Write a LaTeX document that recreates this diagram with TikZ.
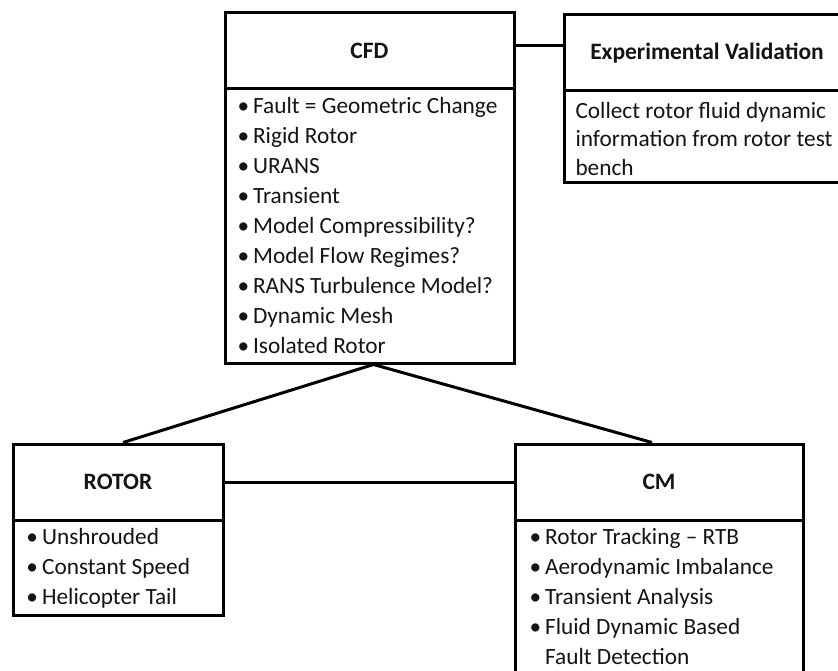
\documentclass[tikz,border=0pt]{standalone}
\usepackage{fontspec}
\setmainfont{Carlito}
\definecolor{txt}{HTML}{141414}
\newcommand{\bul}{\textbullet\kern4pt}
\begin{document}
\begin{tikzpicture}[x=1pt,y=-1pt,
  box/.style={draw=black,line width=3pt,rectangle,inner sep=0pt,text=txt},
  head/.style={box,font=\fontsize{23.5}{28}\selectfont\bfseries},
  body/.style={box,font=\fontsize{23.3}{30}\selectfont,align=left,anchor=north west,inner ysep=0pt},
  conn/.style={line width=3pt,draw=black}]
\useasboundingbox (0,0) rectangle (838,671);
\clip (0,0) rectangle (838,671);
\fill[white] (0,0) rectangle (838,671);
% CFD
\node[head,minimum width=289pt,minimum height=76pt] (cfdh) at (369.5,51) {CFD};
\node[box,minimum width=289pt,minimum height=274pt] (cfdb) at (369.5,226) {};
\node[body,draw=none] (cfdt) at (236,96) {%
\bul Fault = Geometric Change\\
\bul Rigid Rotor\\
\bul URANS\\
\bul Transient\\
\bul Model Compressibility?\\
\bul Model Flow Regimes?\\
\bul RANS Turbulence Model?\\
\bul Dynamic Mesh\\
\bul Isolated Rotor};
% Experimental validation
\node[head,minimum width=286pt,minimum height=76pt] (exph) at (707,53) {Experimental Validation};
\node[box,minimum width=286pt,minimum height=92pt] (expb) at (707,137) {};
\node[body,draw=none,font=\fontsize{23.3}{28.5}\selectfont] (expt) at (574,100.5) {%
Collect rotor fluid dynamic\\
information from rotor test\\
bench};
% ROTOR
\node[head,minimum width=210pt,minimum height=76pt] (roth) at (118,482) {ROTOR};
\node[box,minimum width=210pt,minimum height=95pt] (rotb) at (118,567.5) {};
\node[body,draw=none] (rott) at (25,527) {%
\bul Unshrouded\\
\bul Constant Speed\\
\bul Helicopter Tail};
% CM
\node[head,minimum width=288pt,minimum height=76pt] (cmh) at (659,482) {CM};
\node[box,minimum width=288pt,minimum height=165pt] (cmb) at (659,602.5) {};
\node[body,draw=none] (cmt) at (528,527) {%
\bul Rotor Tracking -- RTB\\
\bul Aerodynamic Imbalance\\
\bul Transient Analysis\\
\bul Fluid Dynamic Based\\
\phantom{\bul}Fault Detection};
% connectors
\draw[conn] ([yshift=5pt]cfdh.east) -- ([yshift=5pt]cfdh.east -| exph.west);
\draw[conn] ([xshift=4pt]cfdb.south) -- ([xshift=5pt]roth.north);
\draw[conn] ([xshift=4pt]cfdb.south) -- ([xshift=-7pt]cmh.north);
\draw[conn] (roth.east) -- (cmh.west);
\end{tikzpicture}
\end{document}
